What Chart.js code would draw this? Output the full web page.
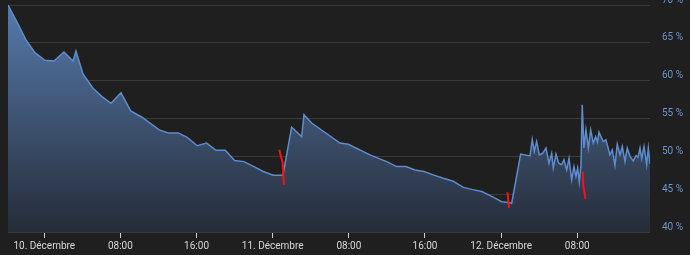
<!DOCTYPE html>
<html>
<head>
<meta charset="utf-8">
<script src="https://cdn.jsdelivr.net/npm/chart.js@4"></script>
<style>
  html, body { margin: 0; background: #1f1f1f; }
</style>
</head>
<body>
<canvas id="graficoHumidite" width="690" height="255"></canvas>
<script>
// heures depuis le 10 décembre 00:00
const heures = [
  -3.81, -2.97, -1.92, -0.98, 0.07, 1.02, 2.07, 3.02, 3.33, 4.07, 5.12, 6.06, 7.01, 8.06,
  9.08, 10.23, 12.08, 13.03, 14.08, 15.02, 16.07, 17.06, 18.04, 19.02, 20.0, 20.98, 22.03,
  23.01, 24.06, 25.08, 25.99, 27.04, 27.29, 28.09, 31.07, 31.94, 34.22, 35.97, 37.02, 38.0,
  38.95, 39.89, 40.87, 41.92, 42.97, 44.02, 45.01, 45.96, 47.01, 48.06, 48.76, 49.11, 50.05,
  51.03, 51.27, 51.48, 51.73, 52.01, 52.36, 52.71, 53.03, 53.31, 53.48, 53.76, 54.05, 54.36,
  54.6, 54.89, 55.13, 55.41, 55.65, 55.86, 56.04, 56.21, 56.39, 56.52, 56.7, 56.91, 57.16,
  57.41, 57.68, 57.93, 58.12, 58.28, 58.73, 59.01, 59.43, 59.68, 59.96, 60.2, 60.49, 60.73,
  61.01, 61.25, 61.54, 61.88, 62.17, 62.38, 62.59, 62.77, 63.01, 63.29, 63.46, 63.64
];
const humidite = [
  70.0, 68.0, 65.4, 63.7, 62.7, 62.6, 63.8, 62.6, 63.9, 60.9, 59.0, 57.9, 57.0, 58.4,
  56.0, 55.2, 53.5, 53.1, 53.1, 52.5, 51.4, 51.75, 50.8, 50.8, 49.45, 49.3, 48.65,
  48.0, 47.5, 47.5, 53.85, 52.6, 55.5, 54.4, 51.75, 51.6, 50.2, 49.3, 48.65, 48.65,
  48.2, 48.0, 47.55, 47.1, 46.7, 45.9, 45.6, 45.35, 44.7, 44.0, 43.9, 43.8, 50.3,
  50.05, 52.2, 50.65, 51.95, 50.2, 50.4, 51.1, 49.1, 50.4, 48.45, 50.3, 49.1, 48.9,
  49.55, 48.2, 49.75, 46.9, 48.65, 47.35, 48.45, 46.6, 48.8, 56.8, 51.1, 53.5, 51.1,
  53.5, 51.75, 52.6, 51.9, 53.2, 51.95, 52.2, 50.2, 50.85, 48.8, 51.6, 50.2, 51.3,
  49.3, 51.1, 50.0, 49.4, 50.1, 49.9, 51.1, 49.7, 51.3, 48.9, 51.1, 49.0
];

// traits rouges ajoutés à la main (null = coupure)
const heuresRouge = [24.69, 25.05, 25.18, null, 48.67, 48.82, null, 56.57, 56.63, 56.86];
const valeursRouge = [50.86, 49.14, 46.24, null, 45.25, 43.2, null, 47.96, 46.11, 44.39];

// axe x
const ticksHeures = [0, 8, 16, 24, 32, 40, 48, 56];
const ticksLabels = ["10. Décembre", "08:00", "16:00", "11. Décembre", "08:00", "16:00", "12. Décembre", "08:00"];

// axe y
const ticksPourcent = [40, 45, 50, 55, 60, 65, 70];

const pontosLinha = heures.map((h, i) => ({ x: h, y: humidite[i] }));
const pontosRouge = heuresRouge.map((h, i) => ({ x: h, y: valeursRouge[i] }));

function degrade(context) {
  const area = context.chart.chartArea;
  if (!area) return "rgba(80,115,165,0.8)";
  const g = context.chart.ctx.createLinearGradient(0, area.top, 0, area.bottom);
  g.addColorStop(0, "rgb(86,122,172)");
  g.addColorStop(1, "rgb(38,44,56)");
  return g;
}

const grf = document.getElementById("graficoHumidite");

new Chart(grf, {
  type: "line",
  data: {
    datasets: [
      {
        label: "Humidité",
        data: pontosLinha,
        borderColor: "#5d8ccf",
        borderWidth: 1.5,
        backgroundColor: degrade,
        fill: "start",
        pointRadius: 0,
        tension: 0,
        order: 2,
      },
      {
        label: "annotations",
        data: pontosRouge,
        borderColor: "#ff1010",
        borderWidth: 2,
        fill: false,
        pointRadius: 0,
        spanGaps: false,
        order: 1,
      },
    ],
  },
  options: {
    responsive: false,
    animation: false,
    layout: {
      autoPadding: false,
      padding: { left: 8, top: 5, right: 0, bottom: 0 },
    },
    plugins: {
      legend: { display: false },
      tooltip: { enabled: false },
    },
    scales: {
      x: {
        type: "linear",
        min: -3.81,
        max: 63.64,
        afterBuildTicks: (scale) => {
          scale.ticks = ticksHeures.map((v) => ({ value: v }));
        },
        afterFit: (scale) => {
          scale.height = 23;
          scale.paddingLeft = 0;
          scale.paddingRight = 0;
        },
        ticks: {
          autoSkip: false,
          maxRotation: 0,
          padding: 2,
          color: "#d8d8d8",
          font: { family: "Roboto", size: 10 },
          callback: (v) => ticksLabels[ticksHeures.indexOf(v)],
        },
        grid: {
          drawOnChartArea: false,
          drawTicks: true,
          tickLength: 6,
          color: "#cfcfcf",
        },
        border: { display: false },
      },
      y: {
        position: "right",
        min: 40,
        max: 70,
        afterBuildTicks: (scale) => {
          scale.ticks = ticksPourcent.map((v) => ({ value: v }));
        },
        afterFit: (scale) => {
          scale.width = 40;
          scale.paddingTop = 0;
          scale.paddingBottom = 0;
        },
        ticks: {
          padding: 12,
          labelOffset: -5,
          color: "#6f95cf",
          font: { family: "Roboto", size: 10 },
          callback: (v) => v + " %",
        },
        grid: {
          color: "#3a3a3a",
          drawTicks: false,
        },
        border: { display: false },
      },
    },
  },
});
</script>
</body>
</html>
